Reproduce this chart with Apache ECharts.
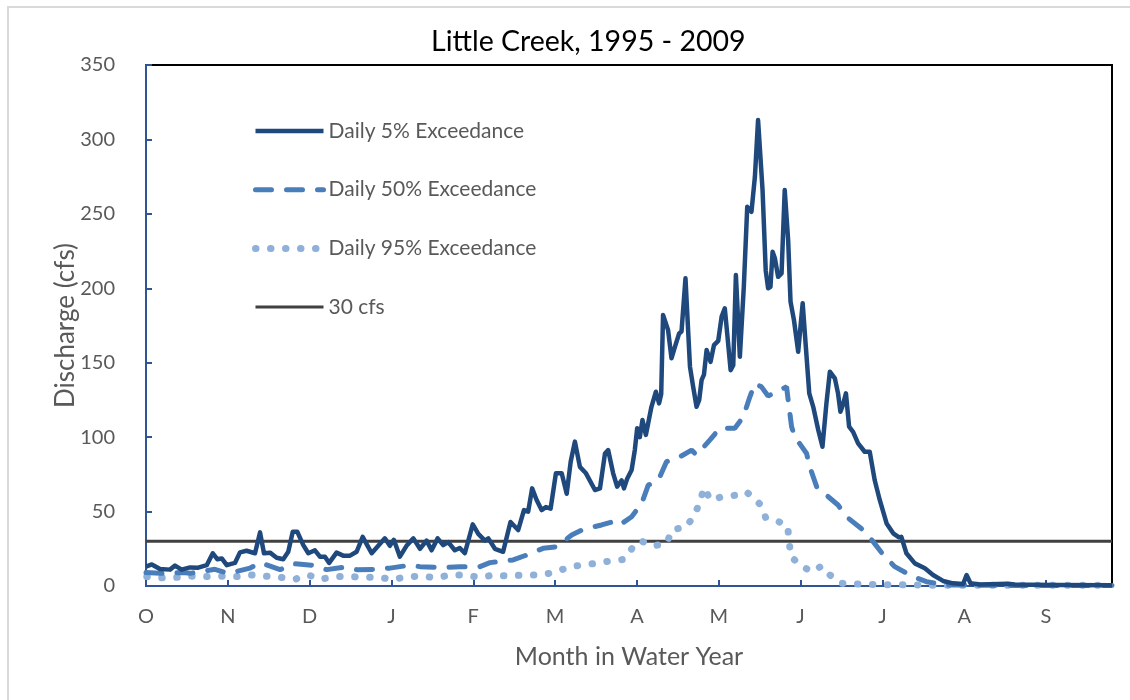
<!DOCTYPE html>
<html>
<head>
<meta charset="utf-8">
<script src="https://cdn.jsdelivr.net/npm/echarts@6/dist/echarts.min.js"></script>
<style>
  html, body { margin: 0; padding: 0; background: #fff; }
  #main { width: 1130px; height: 700px; }
</style>
</head>
<body>
<div id="main"></div>
<script>
// month letters, one every 31 days from Oct 1
var months = ['O', 'N', 'D', 'J', 'F', 'M', 'A', 'M', 'J', 'J', 'A', 'S'];

// Daily 5% exceedance (day of water year, cfs)
var days5 = [0, 2.2, 5.3, 9.1, 11, 13.5, 16.7, 19.8, 23, 25.3, 27, 28.7, 30.6, 33.7, 35.6, 38.1, 41.3, 43.2, 44.7, 47,
  49.5, 52, 53.9, 55.6, 57.3, 59.6, 61.5, 64, 65.9, 67.8, 69.4, 72.2, 74.7, 77.3, 79.8, 82.1, 83.8, 85.5, 88, 90.5,
  92.4, 93.9, 96.2, 98.7, 101.3, 103.8, 106.3, 108.2, 110.5, 112.6, 114.5, 117, 118.9, 120.8, 123.8, 125.9, 128.4, 129.7, 132.2, 135.3,
  138.1, 141, 143.2, 144.8, 146.3, 148, 149.9, 151.5, 153.3, 155.3, 157.5, 159.4, 160.9, 162.5, 164.4, 166.7, 170.1, 172, 173.9, 175.1,
  177, 178.5, 180.2, 181.1, 182.3, 184, 185.2, 186.1, 187.1, 188.1, 189.4, 191.5, 193.2, 194.4, 195.2, 195.9, 197.8, 199.1, 200.4, 202,
  202.9, 204.4, 206.1, 207.3, 208.6, 209.6, 210.5, 211.4, 212.4, 213.9, 215.2, 216.8, 218.1, 219.3, 220.2, 221.5, 222.5, 223.5, 225, 226.5,
  227.8, 229.4, 230.7, 231.9, 233.6, 234.8, 235.7, 236.6, 237.4, 238.3, 239.5, 240.8, 242, 243.3, 244.2, 245.5, 247.1, 248.8, 250, 251.3,
  252.8, 254.7, 256.3, 257.8, 259.1, 261, 262.2, 263.1, 264.1, 265.2, 266.4, 267.9, 269.8, 272.3, 274.2, 276.1, 278, 280.6, 283.1, 285.3,
  286.2, 288.1, 291.3, 295.1, 295.7, 298.2, 302, 305.8, 309.6, 310.9, 312.4, 315.9, 326.5, 329.2, 335, 346, 366];
var q5 = [13, 14.5, 11.4, 11, 13.7, 11, 12.5, 12.3, 14, 22, 18, 18.5, 14, 15.5, 22.6, 23.7, 22, 36, 22, 22.4,
  19, 18, 23, 36.5, 36.5, 27.5, 22, 24, 19.7, 19.7, 15.5, 22.4, 20.4, 20.4, 23, 33, 27.5, 22, 27, 32,
  27, 31, 19.7, 27, 32, 25, 30.5, 24, 32, 27.5, 29.5, 24, 25.5, 22, 41.4, 35, 30.5, 32, 25, 23,
  43, 37.6, 51, 50, 65.6, 57.8, 51, 53, 52, 75.7, 75.7, 62, 83.5, 97, 80, 75.7, 64.5, 65.6, 89, 91.3,
  75.7, 66.7, 71, 65.6, 72, 78, 91.3, 106, 100, 111.5, 101.5, 120.4, 130.5, 122.7, 129, 182, 172, 153, 160.7, 169.7,
  171, 206.7, 147.3, 134, 120.4, 125, 138.3, 142, 158.5, 150.6, 161.8, 164.7, 181, 186.5, 169.7, 145, 148.3, 208.9, 154, 201,
  254.7, 251.4, 274.9, 313, 266, 212, 200, 201, 224.5, 220, 207.7, 210, 266, 232.4, 191, 178.6, 157.4, 190, 160.7, 129.4,
  120.4, 104.8, 93.5, 122.7, 144, 139.5, 129.4, 117, 122, 129.4, 107, 103.6, 95.8, 90.2, 90.2, 71, 57.8, 42, 35.4, 32.7,
  33, 22, 15.2, 11.9, 13, 7.4, 3.4, 1.8, 1.3, 7.4, 1.8, 1, 1.5, 1, 0.8, 0.6, 0.5];

// Daily 50% exceedance
var days50 = [0, 5.3, 14.1, 16.7, 26.1, 31.2, 39.4, 43.2, 50.8, 55.8, 62.8, 68.5, 74.7, 79.8, 87.4, 92.4, 100, 103.8, 112.6, 118.9,
  126.5, 130.3, 139.1, 144.2, 150.5, 155.6, 161.3, 165.6, 172.6, 177, 179.5, 184, 187.8, 190.3, 194.1, 197.2, 202.3, 206.7, 208.6, 213.6,
  217.4, 223.1, 226.3, 228.8, 230.7, 233.2, 235.7, 237.6, 242.7, 243.3, 244.6, 245.8, 250.3, 251.5, 254.1, 257.8, 262.2, 265.4, 271.7, 275.5,
  279.9, 283.7, 290.6, 295.7, 303.3, 323.5, 366];
var q50 = [9, 8.5, 9, 8.5, 11.2, 8.5, 12, 15.7, 11, 15, 14, 11, 12.5, 11, 11.2, 12, 14, 13, 12.3, 13,
  13, 15.7, 17.5, 20.8, 25.3, 26.4, 34.3, 38, 41, 43.2, 41, 46.5, 55.5, 67.8, 71, 83.5, 86.8, 91.3, 88, 98,
  106, 106, 113.7, 127.1, 136, 133.8, 127.6, 129.4, 133.8, 125, 107, 100.3, 89, 80, 66.7, 61, 54.4, 46.5, 37.6, 29.8,
  19.7, 13, 6.3, 2.9, 0.7, 0.4, 0.3];

// Daily 95% exceedance
var days95 = [0.3, 5.9, 11.6, 17.3, 23, 28.7, 34.4, 40, 45.5, 51, 56.4, 61.5, 65.9, 71.6, 77.3, 83, 88, 93.7, 99.4, 105,
  110.1, 115.2, 120.8, 126.3, 131.8, 137.2, 142.9, 149, 154.5, 160, 165, 170.5, 175.8, 181.1, 184.6, 187.4, 192.2, 197.2, 199.5, 204.5,
  207.6, 209.8, 211.4, 213.9, 218.4, 223.5, 227.3, 230.4, 232.6, 234.8, 239.8, 243.1, 243.7, 244.3, 248.7, 252.5, 255.9, 259.1, 263.5, 269.2,
  274.9, 300, 366];
var q95 = [6.3, 5.5, 5.8, 6.6, 6.3, 6.6, 6.3, 7.4, 6.6, 5.8, 4.5, 7.4, 4.5, 6.3, 6.3, 5.8, 5.8, 4.5, 6.3, 6.6,
  5.5, 7.4, 7.4, 5.8, 7.4, 6.6, 7.4, 7.4, 9, 12.5, 14.1, 15.2, 16.8, 17.9, 26.4, 30.4, 26.9, 28.7, 38, 39.4,
  47, 56, 66, 57.8, 60, 61, 63.3, 59.3, 54.9, 45.9, 43.2, 40.3, 29.8, 19.7, 13, 9.6, 13.4, 7.4, 1.8, 1.3,
  1, 0.5, 0.5];

// 30 cfs reference
var daysRef = [0, 366];
var qRef = [30, 30];

function pairs(xs, ys) {
  var out = [];
  for (var i = 0; i < xs.length; i++) out.push([xs[i], ys[i]]);
  return out;
}

var myChart = echarts.init(document.getElementById('main'));
var font = 'Lato, "Noto Sans", sans-serif';

option = {
  backgroundColor: '#fff',
  animation: false,
  graphic: [{
    type: 'rect',
    shape: { x: 8, y: 7, width: 1140, height: 720 },
    style: { fill: 'none', stroke: '#d9d9d9', lineWidth: 2 },
    silent: true
  }],
  title: {
    text: 'Little Creek, 1995 - 2009',
    left: 426,
    top: 22,
    textStyle: { color: '#000', fontWeight: 'normal', fontSize: 28.5, fontFamily: font }
  },
  legend: {
    orient: 'vertical',
    left: 252,
    top: 119,
    padding: 0,
    itemWidth: 68,
    itemHeight: 24,
    itemGap: 34.7,
    itemStyle: { opacity: 0 },
    lineStyle: { width: 'inherit' },
    textStyle: { color: '#595959', fontSize: 21, fontFamily: font, lineHeight: 24 },
    data: ['Daily 5% Exceedance', 'Daily 50% Exceedance', 'Daily 95% Exceedance', '30 cfs']
  },
  grid: {
    left: 146, right: 18, top: 65, bottom: 114,
    show: true, borderColor: '#000', borderWidth: 2, backgroundColor: 'transparent'
  },
  xAxis: {
    type: 'value',
    min: 0, max: 366, interval: 31,
    name: 'Month in Water Year',
    nameLocation: 'middle',
    nameGap: 58,
    nameTextStyle: { color: '#595959', fontSize: 25, fontFamily: font },
    splitLine: { show: false },
    axisLine: { lineStyle: { color: '#2f5597', width: 2 } },
    axisTick: { inside: true, length: 6, lineStyle: { color: '#2f5597', width: 2 } },
    axisLabel: {
      color: '#595959', fontSize: 20, fontFamily: font, margin: 21, showMaxLabel: false,
      formatter: function (v) { var i = Math.round(v / 31); return months[i] || ''; }
    }
  },
  yAxis: {
    type: 'value',
    min: 0, max: 350, interval: 50,
    name: 'Discharge (cfs)',
    nameLocation: 'middle',
    nameGap: 67,
    nameMoveOverlap: false,
    nameTextStyle: { color: '#595959', fontSize: 26, fontFamily: font },
    splitLine: { show: false },
    axisLine: { show: true, lineStyle: { color: '#2f5597', width: 2 } },
    axisTick: { show: true, inside: true, length: 6, lineStyle: { color: '#2f5597', width: 2 } },
    axisLabel: { color: '#595959', fontSize: 20, fontFamily: font, margin: 31 }
  },
  series: [{
    name: 'Daily 5% Exceedance',
    type: 'line',
    symbol: 'none',
    z: 5,
    lineStyle: { color: '#1f497d', width: 4.5, join: 'round' },
    itemStyle: { color: '#1f497d' },
    data: pairs(days5, q5)
  }, {
    name: 'Daily 50% Exceedance',
    type: 'line',
    symbol: 'none',
    z: 4,
    lineStyle: { color: '#4a7ebb', width: 5, type: [16, 15], cap: 'round' },
    itemStyle: { color: '#4a7ebb' },
    data: pairs(days50, q50)
  }, {
    name: 'Daily 95% Exceedance',
    type: 'line',
    symbol: 'none',
    z: 3,
    lineStyle: { color: '#8fb0d9', width: 7, type: [0.5, 14.5], cap: 'round' },
    itemStyle: { color: '#8fb0d9' },
    data: pairs(days95, q95)
  }, {
    name: '30 cfs',
    type: 'line',
    symbol: 'none',
    z: 2,
    lineStyle: { color: '#404040', width: 3 },
    itemStyle: { color: '#404040' },
    data: pairs(daysRef, qRef)
  }]
};
myChart.setOption(option);
</script>
</body>
</html>
